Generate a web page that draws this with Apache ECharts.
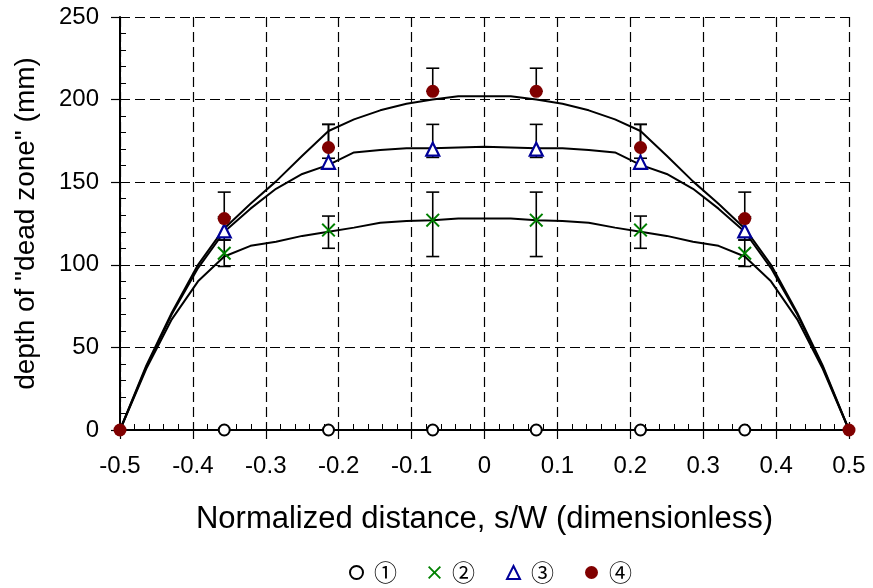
<!DOCTYPE html>
<html><head><meta charset="utf-8">
<script src="https://cdn.jsdelivr.net/npm/echarts@6/dist/echarts.min.js"></script>
<style>html,body{margin:0;padding:0;background:#fff}#c{width:873px;height:588px}</style>
</head><body><div id="c"></div>
<script>
// measured points (x = normalized distance s/W); null = no marker
const pointX = [-0.5, -0.357, -0.214, -0.071, 0.071, 0.214, 0.357, 0.5];
const series1 = [null, 0, 0, 0, 0, 0, 0, null];
const series2 = [null, 107, 121, 127, 127, 121, 107, null];
const series3 = [null, 120.5, 162, 170, 170, 162, 120.5, null];
const series4 = [0, 128, 171, 205, 205, 171, 128, 0];
// error bar ranges [low, high] at interior points
const errX = [-0.357, -0.214, -0.071, 0.071, 0.214, 0.357];
const err2Low = [99, 110, 105, 105, 110, 99];
const err2High = [115, 129.5, 144, 144, 129.5, 115];
const err3Low = [115, 164.5, 165, 165, 164.5, 115];
const err3High = [129, 185, 185, 185, 185, 129];
const err4Low = [128, 171, 205, 205, 171, 128];
const err4High = [144, 185, 219, 219, 185, 144];
// fitted curves
const fitX = [-0.5, -0.464, -0.429, -0.393, -0.357, -0.321, -0.286, -0.25, -0.214, -0.179, -0.143, -0.107, -0.071, -0.036, 0,
  0.036, 0.071, 0.107, 0.143, 0.179, 0.214, 0.25, 0.286, 0.321, 0.357, 0.393, 0.429, 0.464, 0.5];
const fit4 = [0, 39, 71, 100, 122, 137, 150.5, 166, 181, 188, 193.5, 197.5, 200, 202, 202,
  202, 200, 197.5, 193.5, 188, 181, 166, 150.5, 137, 122, 100, 71, 39, 0];
const fit3 = [0, 38, 70, 98, 120, 134, 146, 155, 160.5, 168, 169.5, 170.5, 170.5, 171, 171.5,
  171, 170.5, 170.5, 169.5, 168, 160.5, 155, 146, 134, 120, 98, 70, 38, 0];
const fit2 = [0, 37, 67, 90, 105, 111.5, 114, 117.5, 120, 122.5, 125.5, 126.5, 127, 128, 128,
  128, 127, 126.5, 125.5, 122.5, 120, 117.5, 114, 111.5, 105, 90, 67, 37, 0];
const xTicks = ['-0.5','-0.4','-0.3','-0.2','-0.1','0','0.1','0.2','0.3','0.4','0.5'];
const legendNames = ['①', '②', '③', '④'];

const pair = (xs, ys) => xs.map((x, i) => [x, ys[i]]).filter(p => p[1] !== null);
const triple = (xs, lo, hi) => xs.map((x, i) => [x, lo[i], hi[i]]);
const X_PATH = 'path://M0,1L1,0L5,4L9,0L10,1L6,5L10,9L9,10L5,6L1,10L0,9L4,5Z';

function errSeries(data) {
  return {
    type: 'custom', z: 2, silent: true, data: data,
    encode: {x: 0, y: [1, 2]},
    renderItem: function (params, api) {
      const x = api.value(0);
      const p1 = api.coord([x, api.value(1)]);
      const p2 = api.coord([x, api.value(2)]);
      const hw = 6.5;
      const st = {stroke: '#000', lineWidth: 1.6};
      return {type: 'group', children: [
        {type: 'line', shape: {x1: p1[0], y1: p1[1], x2: p2[0], y2: p2[1]}, style: st},
        {type: 'line', shape: {x1: p1[0] - hw, y1: p1[1], x2: p1[0] + hw, y2: p1[1]}, style: st},
        {type: 'line', shape: {x1: p2[0] - hw, y1: p2[1], x2: p2[0] + hw, y2: p2[1]}, style: st}
      ]};
    }
  };
}
function fitSeries(ys) {
  return {type: 'line', z: 3, silent: true, showSymbol: false, symbol: 'none', data: pair(fitX, ys),
    lineStyle: {color: '#000', width: 2}};
}

const font = "'Liberation Sans', Arial, sans-serif";
const dash = {color: '#000', width: 1.2, type: [10, 5]};
const chart = echarts.init(document.getElementById('c'), null, {renderer: 'canvas'});
chart.setOption({
  animation: false,
  grid: {left: 120, right: 24, top: 17, bottom: 158, containLabel: false},
  xAxis: [{
    type: 'value', min: -0.5, max: 0.5, interval: 0.1,
    axisLine: {show: true, onZero: false, lineStyle: {color: '#000', width: 2}},
    axisTick: {show: true, inside: false, length: 9, lineStyle: {color: '#000', width: 1.2}},
    axisLabel: {color: '#000', fontSize: 24, fontFamily: font, margin: 24,
      formatter: function (v) { return xTicks[Math.round((v + 0.5) * 10)]; }},
    splitLine: {show: true, lineStyle: dash},
    name: 'Normalized distance, s/W (dimensionless)', nameLocation: 'middle', nameGap: 74,
    nameTextStyle: {color: '#000', fontSize: 31, fontFamily: font}
  }, {
    type: 'value', min: -0.5, max: 0.5, interval: 0.1, position: 'bottom',
    axisLine: {show: false, onZero: false}, axisLabel: {show: false}, splitLine: {show: false},
    axisTick: {show: false, inside: true},
    minorTick: {show: true, splitNumber: 5, length: 6, lineStyle: {color: '#000', width: 1}}
  }],
  yAxis: [{
    type: 'value', min: 0, max: 250, interval: 50,
    axisLine: {show: true, onZero: false, lineStyle: {color: '#000', width: 2}},
    axisTick: {show: true, inside: false, length: 9, lineStyle: {color: '#000', width: 1.2}},
    axisLabel: {color: '#000', fontSize: 24, fontFamily: font, margin: 21},
    splitLine: {show: true, lineStyle: dash},
    name: 'depth of "dead zone" (mm)', nameLocation: 'middle', nameGap: 80, nameRotate: 90,
    nameTextStyle: {color: '#000', fontSize: 28, fontFamily: font}
  }, {
    type: 'value', min: 0, max: 250, interval: 50, position: 'left',
    axisLine: {show: false, onZero: false}, axisLabel: {show: false}, splitLine: {show: false},
    axisTick: {show: false, inside: true},
    minorTick: {show: true, splitNumber: 5, length: 6, lineStyle: {color: '#000', width: 1}}
  }],
  legend: {
    data: legendNames, top: 556, left: 344, itemGap: 31, itemWidth: 13, itemHeight: 13,
    textStyle: {color: '#000', fontSize: 23, fontFamily: "'Noto Sans CJK JP', 'DejaVu Sans', sans-serif",
      padding: [0, 0, 0, 6]}
  },
  series: [
    errSeries(triple(errX, err2Low, err2High)),
    errSeries(triple(errX, err3Low, err3High)),
    errSeries(triple(errX, err4Low, err4High)),
    fitSeries(fit2), fitSeries(fit3), fitSeries(fit4),
    {name: '①', type: 'scatter', z: 5, symbol: 'circle', symbolSize: 11, data: pair(pointX, series1),
      itemStyle: {color: '#fff', borderColor: '#000', borderWidth: 2, opacity: 1}},
    {name: '②', type: 'scatter', z: 5, symbol: X_PATH, symbolSize: 14, data: pair(pointX, series2),
      itemStyle: {color: '#008000', opacity: 1}},
    {name: '③', type: 'scatter', z: 5, symbol: 'triangle', symbolSize: 13, data: pair(pointX, series3),
      itemStyle: {color: '#fff', borderColor: '#000099', borderWidth: 2.2, opacity: 1}},
    {name: '④', type: 'scatter', z: 6, symbol: 'circle', symbolSize: 13, data: pair(pointX, series4),
      itemStyle: {color: '#800000', opacity: 1}}
  ]
});
</script></body></html>
